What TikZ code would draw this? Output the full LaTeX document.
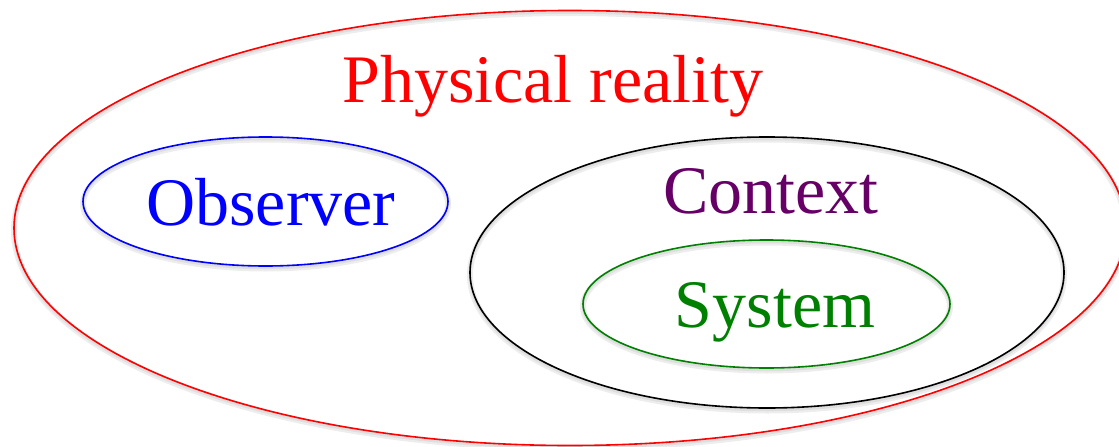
\documentclass[tikz,border=0pt]{standalone}
\usepackage{fontspec}
\setmainfont{Liberation Serif}
\usetikzlibrary{shapes.geometric}
\definecolor{reality}{HTML}{FF0000}
\definecolor{observer}{HTML}{0000FF}
\definecolor{context}{HTML}{660066}
\definecolor{system}{HTML}{008000}
\tikzset{blob/.style={ellipse,inner sep=0pt,line width=1.6pt,
    preaction={draw=black!7,line width=6pt,transform canvas={yshift=-2.5pt}},
    preaction={draw=black!13,line width=2.5pt,transform canvas={yshift=-2pt}}},
  word/.style={font=\fontsize{68}{80}\selectfont,anchor=base}}

\begin{document}
\begin{tikzpicture}[x=1pt,y=-1pt]
  \useasboundingbox (0,0) rectangle (1119,447);
  % the four regions
  \node[blob,draw=reality,minimum width=1112pt,minimum height=435pt] (realityzone) at (570,228) {};
  \node[blob,draw=observer,minimum width=365pt,minimum height=129pt] (observerzone) at (265.5,201.5) {};
  \node[blob,draw=black,minimum width=594pt,minimum height=271pt] (contextzone) at (767,272.5) {};
  \node[blob,draw=system,minimum width=367pt,minimum height=128pt] (systemzone) at (766.5,304) {};
  % their names
  \node[word,text=reality] (realitylab) at (553,102) {Physical reality};
  \node[word,text=observer] (observerlab) at (271,225) {Observer};
  \node[word,text=context] (contextlab) at (771,213) {Context};
  \node[word,text=system] (systemlab) at (775,327) {System};
\end{tikzpicture}
\end{document}
